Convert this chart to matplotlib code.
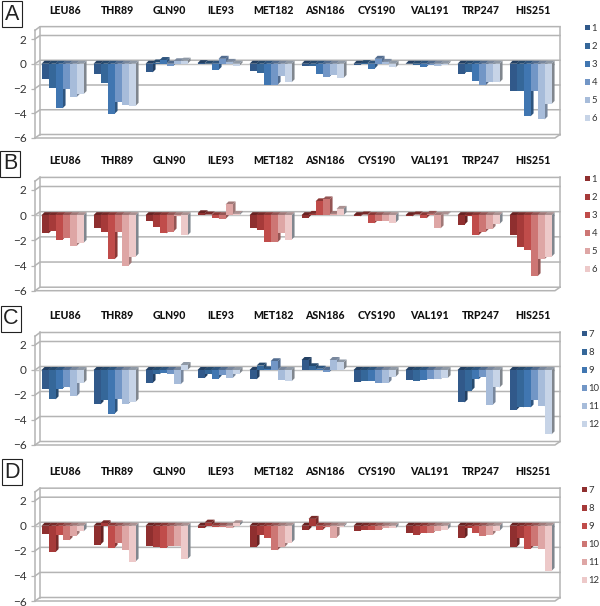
import matplotlib
matplotlib.use("Agg")
import matplotlib.pyplot as plt

plt.rcParams['font.family'] = ['Lato', 'DejaVu Sans']

residues = ["LEU86", "THR89", "GLN90", "ILE93", "MET182",
            "ASN186", "CYS190", "VAL191", "TRP247", "HIS251"]
y_ticks = [-6, -4, -2, 0, 2]

blues = ["#31598a", "#356799", "#4076b1", "#7296c6", "#a7bcda", "#c7d4e7"]
reds = ["#8f2f2f", "#a63a39", "#c04c4a", "#cd7674", "#dea6a5", "#edc9c9"]

labels_ab = ["1", "2", "3", "4", "5", "6"]
labels_cd = ["7", "8", "9", "10", "11", "12"]

# one row per series, one column per residue
values_a = [
    [-1.25, -0.80, -0.70, 0.05, -0.60, -0.15, -0.10, -0.05, -0.80, -2.20],
    [-1.95, -1.55, 0.10, -0.05, -0.75, -0.20, 0.05, -0.10, -0.70, -2.20],
    [-3.60, -4.05, 0.30, -0.50, -1.70, -0.80, -0.40, -0.25, -1.40, -4.25],
    [-2.05, -3.10, -0.15, 0.40, -1.70, -1.05, 0.40, -0.10, -1.75, -2.20],
    [-2.70, -3.35, 0.20, 0.15, -1.00, -0.90, 0.15, -0.20, -1.50, -4.50],
    [-2.45, -3.40, 0.25, -0.15, -1.50, -1.15, -0.30, -0.10, -1.50, -3.25],
]
values_b = [
    [-1.45, -1.05, -0.50, 0.15, -1.05, -0.20, -0.10, -0.10, -0.75, -1.55],
    [-1.25, -1.30, -0.90, 0.05, -1.15, 0.10, 0.05, 0.05, -0.10, -2.50],
    [-1.95, -3.50, -1.45, -0.25, -2.15, 1.10, -0.65, -0.25, -1.60, -2.80],
    [-1.80, -1.30, -1.30, -0.30, -2.15, 1.25, -0.45, 0.10, -1.35, -4.85],
    [-2.45, -4.00, -0.05, 0.85, -1.40, 0.10, -0.45, -1.05, -1.10, -3.50],
    [-2.20, -3.30, -1.60, 0.10, -1.95, 0.50, -0.60, 0.05, -0.70, -3.30],
]
values_c = [
    [-1.55, -2.75, -1.05, -0.65, -0.75, 0.80, -0.95, -0.80, -2.60, -3.20],
    [-2.35, -2.40, -0.35, -0.35, 0.35, 0.30, -0.85, -0.85, -1.65, -3.00],
    [-1.50, -3.50, -0.25, -0.70, 0.05, 0.10, -0.85, -0.80, -0.75, -3.00],
    [-1.40, -2.35, -0.30, -0.40, 0.70, -0.15, -1.05, -0.75, -0.55, -2.40],
    [-2.10, -2.70, -1.15, -0.65, -0.80, 0.80, -1.05, -0.75, -2.80, -2.90],
    [-1.05, -2.55, 0.40, -0.30, -0.90, 0.60, -0.55, -0.65, -1.40, -5.15],
]
values_d = [
    [-0.65, -1.50, -1.60, -0.20, -1.70, -0.35, -0.40, -0.55, -1.00, -1.70],
    [-2.10, 0.20, -1.70, 0.25, -0.70, 0.55, -0.30, -0.70, -0.20, -1.00],
    [-0.75, -1.75, -1.75, -0.10, -1.00, -0.35, -0.35, -0.60, -0.60, -1.85],
    [-1.15, -1.40, -1.60, -0.10, -1.95, -0.10, -0.30, -0.55, -0.80, -1.60],
    [-0.80, -1.95, -1.65, -0.20, -1.70, -0.95, -0.20, -0.40, -0.75, -1.85],
    [-0.45, -2.85, -2.65, 0.20, -1.35, -0.10, -0.20, -0.30, -0.40, -3.60],
]

WIDTH, HEIGHT = 600, 606
AX_LEFT, AX_RIGHT = 35, 555
BAR_W = 7 / 52
BAR_SHIFT = 0.03
GRID = "#b4b4b4"


def side_shade(color, k=0.72):
    r, g, b = matplotlib.colors.to_rgb(color)
    return (r * k, g * k, b * k)


def draw_panel(fig, letter, values, colors, labels, y_bottom, y_two, letter_xy, legend_xy):
    unit = (y_bottom - y_two) / 8
    y_top = y_two - unit
    ax = fig.add_axes([
        AX_LEFT / WIDTH, 1 - y_bottom / HEIGHT,
        (AX_RIGHT - AX_LEFT) / WIDTH, (y_bottom - y_top) / HEIGHT,
    ])
    ax.patch.set_alpha(0)
    ax.set_xlim(-0.5, 9.5)
    ax.set_ylim(-6, 3)

    # wall offset and bar depth, pixels to data units
    wall_x, wall_y = 5 / 52, 3.5 / unit
    depth_x, depth_y = 3 / 52, 3 / unit

    for t in y_ticks:
        ax.plot([-0.5, -0.5 + wall_x, 9.5 + wall_x], [t, t + wall_y, t + wall_y],
                color=GRID, lw=1.1, clip_on=False, zorder=1)
    ax.plot([-0.5 + wall_x] * 2, [-6 + wall_y, 3], color=GRID, lw=1.1, clip_on=False, zorder=1)
    ax.plot([9.5 + wall_x] * 2, [-6 + wall_y, 3], color=GRID, lw=1.1, clip_on=False, zorder=1)
    ax.plot([-0.5, -0.5 + wall_x, 9.5 + wall_x], [2.7, 3, 3], color=GRID, lw=1.1, clip_on=False, zorder=1)
    ax.plot([-0.5, -0.5], [-6, 2.7], color=GRID, lw=1.1, clip_on=False, zorder=1)
    ax.plot([-0.5, 9.5, 9.5 + wall_x], [-6, -6, -6 + wall_y], color=GRID, lw=1.1, clip_on=False, zorder=1)
    ax.plot([-0.5, 9.5 + wall_x / 2], [0, 0], color="#c4c4c4", lw=1.0, zorder=1)

    handles = []
    for s, series in enumerate(values):
        z = 3 + s
        shade = side_shade(colors[s])
        for i, v in enumerate(series):
            x0 = i + BAR_SHIFT + (s - 2.5 - 0.5) * BAR_W
            x1 = x0 + BAR_W
            top = max(v, 0)
            low = min(v, 0)
            ax.fill([x1, x1 + depth_x, x1 + depth_x, x1],
                    [low, low + depth_y, top + depth_y, top],
                    color="#80868e" if s == 5 else shade, lw=0, zorder=z)
            ax.fill([x0, x0 + depth_x, x1 + depth_x, x1],
                    [top, top + depth_y, top + depth_y, top],
                    color=shade, lw=0, zorder=z)
        bars = ax.bar([i + BAR_SHIFT + (s - 2.5) * BAR_W for i in range(len(series))],
                      series, width=BAR_W, color=colors[s], zorder=z + 0.5,
                      label=labels[s])
        handles.append(bars)

    ax.set_yticks(y_ticks)
    ax.tick_params(axis='y', length=3, width=0.9, color=GRID, pad=3, labelsize=8.5, labelcolor="#333333")
    ax.xaxis.tick_top()
    ax.set_xticks([i + 0.08 for i in range(len(residues))])
    ax.set_xticklabels(residues, fontsize=7.6, fontweight='black', color="#111111")
    ax.tick_params(axis='x', length=0, pad=8)
    for sp in ax.spines.values():
        sp.set_visible(False)

    fig.text(letter_xy[0] / WIDTH, 1 - letter_xy[1] / HEIGHT, letter,
             family='Liberation Sans', fontsize=15.5, ha='center', va='center', color="#222222",
             bbox=dict(boxstyle='square,pad=0.12', fc='white', ec='#222222', lw=0.8))

    fig.legend(handles, labels, loc='upper left',
               bbox_to_anchor=(legend_xy[0] / WIDTH, 1 - legend_xy[1] / HEIGHT),
               frameon=False, fontsize=6.8, labelspacing=0.96, borderpad=0, borderaxespad=0,
               handlelength=0.53, handleheight=0.53, handletextpad=0.15, labelcolor="#333333")


fig = plt.figure(figsize=(WIDTH / 100, HEIGHT / 100), dpi=100)

draw_panel(fig, "A", values_a, blues, labels_ab, 138, 39, (12, 14), (585, 24))
draw_panel(fig, "B", values_b, reds, labels_ab, 290.7, 190, (10, 164), (585, 175))
draw_panel(fig, "C", values_c, blues, labels_cd, 445, 345, (11, 319), (582, 330))
draw_panel(fig, "D", values_d, reds, labels_cd, 601, 500.7, (12, 472), (582, 486))

fig.savefig("out.png", dpi=100)
